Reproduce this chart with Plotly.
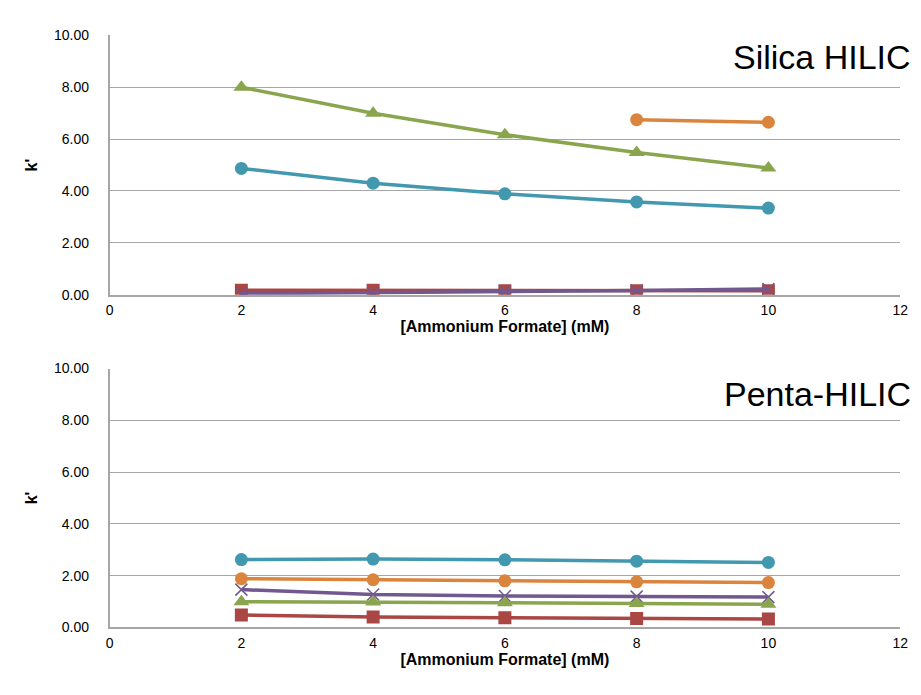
import plotly.graph_objects as go

# Ammonium formate concentration (mM)
conc = [2, 4, 6, 8, 10]
conc_orange_silica = [8, 10]

# Retention factor k' on the silica HILIC column
silica_red = [0.17, 0.17, 0.15, 0.15, 0.15]
silica_green = [8.00, 7.00, 6.17, 5.48, 4.89]
silica_purple = [0.04, 0.07, 0.12, 0.16, 0.22]
silica_teal = [4.87, 4.30, 3.89, 3.58, 3.34]
silica_orange = [6.75, 6.65]

# Retention factor k' on the penta-HILIC column
penta_red = [0.48, 0.40, 0.37, 0.34, 0.32]
penta_green = [0.99, 0.98, 0.95, 0.92, 0.89]
penta_purple = [1.46, 1.27, 1.21, 1.19, 1.17]
penta_teal = [2.62, 2.64, 2.61, 2.56, 2.51]
penta_orange = [1.88, 1.84, 1.80, 1.76, 1.73]

y_ticks = [0, 2, 4, 6, 8, 10]
y_tick_text = ["0.00", "2.00", "4.00", "6.00", "8.00", "10.00"]
x_ticks = [0, 2, 4, 6, 8, 10, 12]

RED = "#AA4643"
GREEN = "#89A54E"
PURPLE = "#71588F"
TEAL = "#4198AF"
ORANGE = "#DB843D"

TICK_FONT = dict(family="Liberation Sans, Arial", size=14, color="#000000")
TITLE_FONT = dict(family="Liberation Sans Narrow, Liberation Sans, Arial", size=16, color="#000000")
PANEL_FONT = dict(family="Liberation Sans, Arial", size=34, color="#000000")

fig = go.Figure()


def add_series(x, y, color, symbol, size, xa, ya):
    fig.add_trace(go.Scatter(
        x=x, y=y, mode="lines+markers", xaxis=xa, yaxis=ya,
        line=dict(color=color, width=3.5),
        marker=dict(color=color, symbol=symbol, size=size,
                    line=dict(color=color, width=1.5 if symbol == "x-thin" else 0)),
        showlegend=False, hoverinfo="x+y",
    ))


# top panel: silica HILIC
add_series(conc, silica_red, RED, "square", 13, "x", "y")
add_series(conc, silica_purple, PURPLE, "x-thin", 12, "x", "y")
add_series(conc, silica_teal, TEAL, "circle", 13, "x", "y")
add_series(conc, silica_green, GREEN, "triangle-up", 14, "x", "y")
add_series(conc_orange_silica, silica_orange, ORANGE, "circle", 13, "x", "y")

# bottom panel: penta-HILIC
add_series(conc, penta_teal, TEAL, "circle", 13, "x2", "y2")
add_series(conc, penta_orange, ORANGE, "circle", 13, "x2", "y2")
add_series(conc, penta_purple, PURPLE, "x-thin", 12, "x2", "y2")
add_series(conc, penta_green, GREEN, "triangle-up", 14, "x2", "y2")
add_series(conc, penta_red, RED, "square", 13, "x2", "y2")

x_dom = [107 / 921, 908 / 921]
top_dom = [1 - 293.5 / 695, 1 - 28 / 695]
bot_dom = [1 - 634 / 695, 1 - 369 / 695]

xaxis_common = dict(
    range=[0, 12], tickvals=x_ticks, showgrid=False, zeroline=False,
    showline=True, linecolor="#A6A6A6", linewidth=1.5, ticks="",
    tickfont=TICK_FONT, ticklabelstandoff=2,
    title=dict(text="<b>[Ammonium Formate] (mM)</b>", font=TITLE_FONT, standoff=0),
    domain=x_dom,
)
yaxis_common = dict(
    range=[0, 10], tickvals=y_ticks, ticktext=y_tick_text,
    showgrid=True, gridcolor="#A6A6A6", gridwidth=1,
    zeroline=False, showline=True, linecolor="#A6A6A6", linewidth=1.5,
    ticks="", tickfont=TICK_FONT, ticklabelstandoff=16,
    title=dict(text="<b>k'</b>", font=TITLE_FONT, standoff=12),
)

fig.update_layout(
    width=921, height=695,
    margin=dict(l=0, r=0, t=0, b=0),
    paper_bgcolor="white", plot_bgcolor="white",
    xaxis=dict(**xaxis_common, anchor="y"),
    yaxis=dict(**yaxis_common, domain=top_dom, anchor="x"),
    xaxis2=dict(**xaxis_common, anchor="y2"),
    yaxis2=dict(**yaxis_common, domain=bot_dom, anchor="x2"),
    annotations=[
        dict(text="Silica HILIC", xref="paper", yref="paper",
             x=921 / 921, y=1 - 50 / 695, xanchor="right", yanchor="middle",
             showarrow=False, font=PANEL_FONT),
        dict(text="Penta-HILIC", xref="paper", yref="paper",
             x=921 / 921, y=1 - 395 / 695, xanchor="right", yanchor="middle",
             showarrow=False, font=PANEL_FONT),
    ],
)

fig.write_html("out.html")
